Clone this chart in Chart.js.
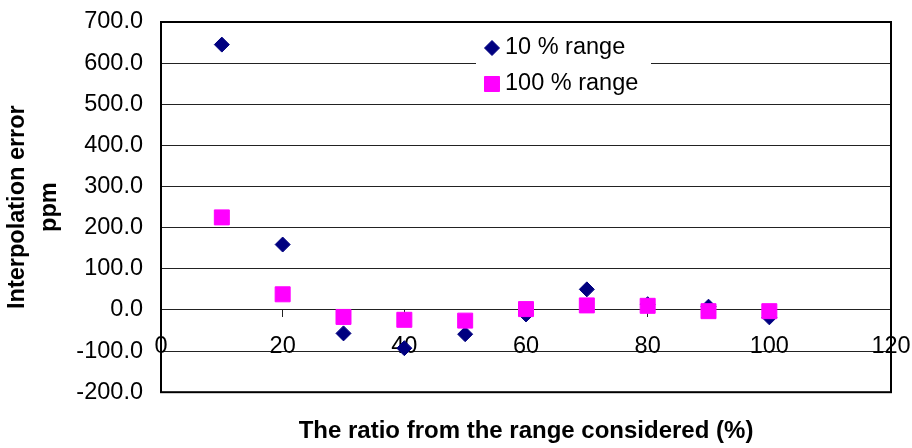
<!DOCTYPE html>
<html>
<head>
<meta charset="utf-8">
<script src="https://cdn.jsdelivr.net/npm/chart.js@4/dist/chart.umd.min.js"></script>
<style>
  html, body { margin: 0; padding: 0; background: #ffffff; }
  #chart { display: block; }
</style>
</head>
<body>
<canvas id="chart" width="912" height="448"></canvas>
<script>
// Ratio from the considered range (%)
const ratios = [10, 20, 30, 40, 50, 60, 70, 80, 90, 100];
// Interpolation error (ppm), 10 % range
const range10 = [645, 159, -57, -93, -59, -11, 50, 14, 8, -18];
// Interpolation error (ppm), 100 % range
const range100 = [225, 38, -17, -24, -26, 2, 11, 10, -3, -3];
const seriesNames = ['10 % range', '100 % range'];
const xTitle = 'The ratio from the range considered (%)';
const yTitle = ['Interpolation error', 'ppm'];

const FONT = "'Liberation Sans', Arial, Helvetica, sans-serif";

const toPoints = (xs, ys) => xs.map((x, i) => ({ x: x, y: ys[i] }));

// Tick labels may overhang the plot edges; keep the plot area fixed
const noOverhang = (scale) => {
  scale.paddingTop = 0;
  scale.paddingBottom = 0;
  scale.paddingLeft = 0;
  scale.paddingRight = 0;
};

// Black frame round the plot area
const plotFrame = {
  id: 'plotFrame',
  beforeDatasetsDraw(chart) {
    const { ctx, chartArea: a } = chart;
    ctx.save();
    ctx.strokeStyle = '#000000';
    ctx.lineWidth = 2;
    ctx.strokeRect(a.left, a.top, a.right - a.left, a.bottom - a.top);
    ctx.restore();
  }
};

// Legend drawn inside the plot area on a white panel
const insetLegend = {
  id: 'insetLegend',
  afterDraw(chart, args, opts) {
    const { ctx, chartArea: a } = chart;
    const left = a.left + opts.offsetX;
    const top = a.top + opts.offsetY;
    ctx.save();
    ctx.fillStyle = '#ffffff';
    ctx.fillRect(left, top, opts.width, opts.height);
    ctx.font = opts.font;
    ctx.textBaseline = 'middle';
    ctx.textAlign = 'left';
    chart.data.datasets.forEach((ds, i) => {
      const cy = top + opts.firstRow + i * opts.rowGap;
      const cx = left + opts.markerX;
      ctx.fillStyle = ds.backgroundColor;
      ctx.strokeStyle = ds.borderColor;
      Chart.helpers.drawPoint(ctx, {
        pointStyle: ds.pointStyle,
        radius: ds.pointRadius,
        borderWidth: ds.pointBorderWidth,
        rotation: 0
      }, cx, cy);
      ctx.fillStyle = '#000000';
      ctx.fillText(ds.label, left + opts.textX, cy);
    });
    ctx.restore();
  }
};

new Chart(document.getElementById('chart'), {
  type: 'scatter',
  data: {
    datasets: [
      {
        label: seriesNames[0],
        data: toPoints(ratios, range10),
        pointStyle: 'rectRot',
        pointRadius: 7.5,
        pointBorderWidth: 1,
        backgroundColor: '#000080',
        borderColor: '#000080',
        order: 1
      },
      {
        label: seriesNames[1],
        data: toPoints(ratios, range100),
        pointStyle: 'rect',
        pointRadius: 10.6,
        pointBorderWidth: 1,
        backgroundColor: '#FF00FF',
        borderColor: '#FF00FF',
        order: 0
      }
    ]
  },
  options: {
    responsive: false,
    animation: false,
    events: [],
    layout: { padding: { left: 0, top: 22, right: 21, bottom: 0 } },
    scales: {
      x: {
        type: 'linear',
        position: { y: 0 },
        min: 0,
        max: 120,
        afterFit(scale) { scale.height = 0; noOverhang(scale); },
        ticks: {
          stepSize: 20,
          padding: 15,
          color: '#000000',
          font: { family: FONT, size: 23.5 }
        },
        grid: {
          drawOnChartArea: false,
          drawTicks: true,
          tickLength: 7,
          color: '#222222'
        },
        border: { display: true, color: '#222222', width: 1 }
      },
      y: {
        type: 'linear',
        min: -200,
        max: 700,
        afterFit(scale) { scale.width = 161; noOverhang(scale); },
        ticks: {
          stepSize: 100,
          padding: 18,
          color: '#000000',
          font: { family: FONT, size: 23.5 },
          callback: (v) => v.toFixed(1)
        },
        grid: { color: '#222222', drawTicks: false, lineWidth: 1 },
        border: { display: false },
        title: {
          display: true,
          text: yTitle,
          color: '#000000',
          font: { family: FONT, size: 23.5, weight: 'bold', lineHeight: 1.36 },
          padding: { top: 2, bottom: 0 }
        }
      }
    },
    plugins: {
      legend: { display: false },
      tooltip: { enabled: false },
      title: {
        display: true,
        position: 'bottom',
        fullSize: false,
        text: xTitle,
        color: '#000000',
        font: { family: FONT, size: 24, weight: 'bold', lineHeight: 1.2 },
        padding: { top: 25, bottom: 2 }
      },
      insetLegend: {
        offsetX: 315,
        offsetY: 2,
        width: 175,
        height: 76,
        markerX: 16,
        textX: 29,
        firstRow: 24,
        rowGap: 36,
        font: '23.5px ' + FONT
      }
    }
  },
  plugins: [plotFrame, insetLegend]
});
</script>
</body>
</html>
